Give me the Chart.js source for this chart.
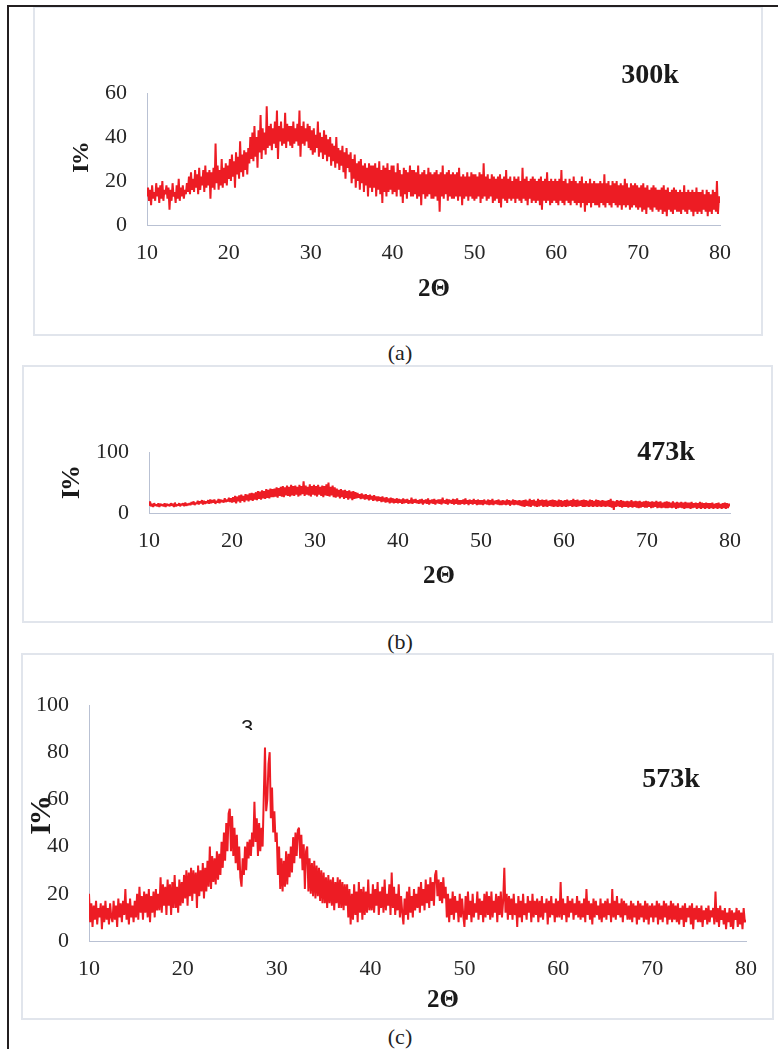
<!DOCTYPE html>
<html><head><meta charset="utf-8">
<script src="https://cdn.jsdelivr.net/npm/chart.js@4.4.0/dist/chart.umd.min.js"></script>
<style>
html,body{margin:0;padding:0;background:#fff;}
body{width:778px;height:1049px;position:relative;overflow:hidden;font-family:"Liberation Serif",serif;}
.frameTop{position:absolute;left:7px;top:5px;width:771px;height:2px;background:#231f20;}
.frameLeft{position:absolute;left:7px;top:5px;width:2px;height:1044px;background:#231f20;}
.box{position:absolute;border:2px solid #e1e5ec;box-sizing:border-box;}
.cap{position:absolute;font-size:22px;color:#222;transform:translate(-50%,-50%);line-height:1;}
canvas{position:absolute;left:0;}
</style></head>
<body>
<div class="box" style="left:33px;top:6px;width:730px;height:330px;"></div>
<div class="box" style="left:22px;top:365px;width:751px;height:258px;"></div>
<div class="box" style="left:21px;top:653px;width:753px;height:367px;"></div>
<div class="frameTop"></div><div class="frameLeft"></div>
<div class="cap" style="left:400px;top:353px;">(a)</div>
<div class="cap" style="left:400px;top:642px;">(b)</div>
<div class="cap" style="left:400px;top:1037px;">(c)</div>
<canvas id="ca" width="778" height="340" style="top:0px"></canvas>
<canvas id="cb" width="778" height="270" style="top:360px"></canvas>
<canvas id="cc" width="778" height="375" style="top:650px"></canvas>
<script>
// ---- data: intensity read every 0.125 deg of 2-theta, from 10 to 80 ----
const xStart = 10, xEnd = 80;
const xTicks = [10, 20, 30, 40, 50, 60, 70, 80];
const yTicksA = [0, 20, 40, 60];
const yTicksB = [0, 100];
const yTicksC = [0, 20, 40, 60, 80, 100];

// 300k (one row = 2.5 deg)
const seriesA_300k = [
13,17,11,16,9,18,12,15,11,19,13,17,10,18,12,20,11,16,14,18,
12,17,7,16,11,19,13,15,10,18,12,21,11,17,13,18,12,16,14,19,
15,22,14,24,16,21,15,25,17,23,14,26,16,22,18,25,15,27,17,24,
18,25,12,24,17,26,16,37,19,27,16,25,18,30,17,26,19,28,18,27,
21,30,20,32,22,29,17,33,23,31,21,38,24,32,22,34,25,33,23,35,
28,40,30,42,29,45,31,40,26,43,33,50,30,44,34,42,32,54,35,45,
36,46,34,44,37,47,35,52,30,45,38,47,36,44,37,51,35,46,38,45,
36,45,35,47,37,44,38,46,36,52,31,45,37,47,36,44,38,46,35,45,
34,43,32,44,33,41,35,47,31,42,33,40,30,43,32,41,29,39,31,40,
27,37,29,36,26,40,28,35,25,34,27,36,24,33,21,35,26,32,24,33,
19,30,21,32,17,28,20,29,16,30,19,27,15,28,18,26,13,28,17,27,
15,27,17,28,13,26,16,29,14,25,10,27,15,26,13,28,15,25,16,27,
14,27,15,24,13,28,16,25,13,23,10,26,14,25,12,24,15,27,13,25,
13,25,14,24,12,27,13,23,9,24,14,25,12,23,13,26,14,24,12,23,
12,24,13,25,11,23,6,24,13,27,12,23,14,24,11,25,13,23,12,24,
12,23,13,24,11,26,13,22,9,23,12,22,13,24,11,22,13,24,12,23,
11,23,12,22,13,24,10,23,12,28,13,22,11,23,12,21,13,23,10,22,
11,21,12,22,10,23,8,21,12,22,11,25,10,21,12,22,11,20,12,22,
10,21,12,22,11,20,10,26,12,21,11,22,9,20,12,21,10,22,11,21,
10,20,11,21,9,22,7,20,11,21,10,24,11,20,9,21,10,20,11,21,
10,20,9,21,11,25,10,20,9,21,11,19,10,21,9,20,11,22,10,20,
9,19,10,20,8,22,10,19,6,20,9,19,10,21,8,19,10,20,9,19,
9,19,8,20,10,19,9,23,8,19,10,20,9,18,8,20,10,19,9,20,
8,18,9,19,7,18,9,21,8,19,9,17,7,19,8,18,9,19,8,18,
7,17,8,18,6,19,7,17,5,18,8,16,7,17,6,18,8,17,7,16,
6,16,7,17,5,18,6,16,4,17,7,15,6,16,5,17,7,16,6,15,
6,16,5,15,7,18,6,15,5,16,7,15,6,16,4,15,6,17,5,15,
6,15,5,16,7,14,6,16,4,15,6,14,5,16,7,15,6,20,5,13,
10];

// 473k
const seriesB_473k = [
12,19,11,15,10,16,12,14,11,16,10,15,12,14,11,16,10,15,12,14,
11,16,12,15,10,17,11,14,12,16,11,15,13,16,11,17,12,15,13,16,
13,18,14,19,13,17,15,20,14,19,16,21,14,20,15,19,16,21,15,22,
16,21,17,22,15,20,17,23,16,22,18,21,17,24,18,22,19,25,18,24,
17,26,18,28,16,27,19,29,17,30,20,28,18,31,21,30,19,32,21,33,
20,32,22,34,21,36,23,35,22,37,24,36,23,39,25,38,24,40,26,39,
26,40,27,42,25,41,28,43,27,44,26,42,29,45,28,43,27,46,29,44,
28,45,30,43,27,46,29,44,31,52,28,45,30,43,29,47,27,44,30,46,
29,44,27,46,30,43,28,45,26,44,29,47,28,50,27,43,29,45,26,42,
25,40,27,38,24,39,26,37,23,38,25,36,22,37,24,35,21,36,23,34,
24,33,25,31,23,32,24,30,22,31,23,29,21,30,22,28,20,29,21,27,
19,27,20,26,18,27,19,25,17,26,18,24,16,25,17,24,16,23,17,24,
16,23,17,22,15,24,16,22,17,23,15,21,16,25,15,22,17,23,16,21,
15,22,16,23,14,21,16,22,15,24,14,21,16,22,15,23,14,21,16,22,
15,22,14,25,16,21,15,23,14,22,16,21,15,23,14,22,15,24,14,21,
14,21,15,22,14,24,15,21,13,22,15,21,14,23,15,21,13,22,14,21,
14,21,13,22,15,20,14,22,13,21,14,23,13,20,15,21,14,22,13,20,
13,21,14,20,13,22,14,21,12,20,14,22,13,21,14,20,13,21,12,20,
11,21,10,22,12,20,11,23,10,21,12,22,11,20,10,23,11,21,12,22,
10,21,11,22,10,20,12,21,11,22,10,21,11,20,10,22,11,21,10,20,
11,21,10,22,11,20,12,21,10,23,11,21,10,22,11,20,12,21,10,22,
10,21,11,20,10,22,11,21,10,20,11,22,10,21,11,20,10,21,11,20,
10,20,11,21,10,23,9,20,5,19,10,21,11,20,10,21,9,20,10,19,
10,20,9,19,10,21,9,19,10,20,9,19,8,20,9,18,10,19,9,20,
9,19,10,18,8,19,9,18,10,20,8,18,9,19,8,17,9,18,8,19,
8,18,9,17,8,19,9,17,7,18,8,17,9,18,8,17,7,18,8,17,
8,17,7,18,8,16,9,17,7,16,8,18,7,17,8,16,7,17,8,16,
7,16,8,17,7,15,8,16,7,17,8,15,7,16,8,17,7,16,8,15,
11];

// 573k
const seriesC_573k = [
20,8,16,6,15,9,17,7,14,10,16,5,15,8,17,9,14,7,16,10,
8,17,9,15,6,18,10,16,8,17,11,22,9,16,7,18,10,15,8,17,
10,20,9,23,12,19,9,21,12,20,10,22,8,19,12,21,10,22,13,20,
13,27,12,24,15,23,11,26,15,24,11,25,14,28,14,23,12,26,15,25,
16,28,18,30,15,29,19,31,17,30,20,29,14,32,19,30,21,33,18,31,
21,34,23,40,22,36,25,35,24,38,26,37,28,42,31,46,34,50,38,54,
56,38,53,36,48,33,45,30,40,27,23,35,28,40,30,42,35,43,36,46,
40,59,42,52,36,50,38,48,40,62,82,55,60,75,80,52,65,46,55,42,
46,28,40,22,35,21,34,23,38,24,37,27,40,29,44,33,46,36,47,48,
35,45,30,41,22,38,40,21,35,20,33,19,34,18,32,19,31,17,30,16,
29,16,27,14,28,16,26,15,27,13,25,16,27,14,26,14,25,13,24,15,
24,10,22,7,20,9,24,11,21,8,25,12,22,9,23,11,21,12,26,13,
20,13,24,12,22,15,25,11,21,14,23,12,26,13,20,15,24,11,29,14,
23,11,20,13,24,10,19,12,7,18,11,21,9,23,12,19,10,22,13,20,
14,23,12,25,15,22,13,26,16,24,14,27,17,25,15,28,30,19,26,17,
25,16,27,18,23,10,20,8,18,11,21,9,19,12,17,8,20,10,18,11,
6,19,9,21,11,17,8,20,10,16,12,21,9,18,11,17,8,20,10,21,
11,19,9,21,10,17,12,20,8,19,11,21,10,17,31,12,20,9,19,11,
18,9,20,11,16,6,19,10,17,8,20,11,16,9,19,12,17,8,20,10,
17,11,18,8,17,10,19,9,16,12,18,7,17,10,19,11,16,8,18,10,
17,10,25,9,18,11,16,8,19,10,17,12,18,9,16,11,19,10,17,9,
16,10,18,8,22,11,17,9,16,7,18,10,17,11,15,9,18,8,16,10,
17,9,18,11,16,8,22,10,17,9,19,11,16,10,18,8,17,11,16,9,
15,9,17,8,16,10,15,7,17,9,16,10,15,8,17,9,16,7,15,10,
16,8,15,10,17,7,16,9,15,8,17,10,16,7,15,9,17,8,16,9,
15,8,16,7,14,9,15,6,16,8,14,10,15,7,16,5,14,9,15,8,
14,8,15,6,13,9,14,7,15,8,13,10,14,7,21,8,14,6,15,9,
13,7,14,5,12,8,14,6,13,5,12,9,14,6,13,7,12,5,14,8,
9];

// ---- styling ----
const RED = '#ED1C24';
const AXIS = '#b9c1d3';
const TICKFONT = {family: '"Liberation Serif", "Times New Roman", serif', size: 22};
const TICKCOLOR = '#262626';
const SERIF = '"Liberation Serif", "Times New Roman", serif';

function toPoints(ys) {
  const n = ys.length;
  return ys.map((y, i) => ({x: xStart + i * (xEnd - xStart) / (n - 1), y: y}));
}

function textPlugin(items) {
  return {
    id: 'texts',
    afterDraw(chart) {
      const ctx = chart.ctx;
      items.forEach(t => {
        ctx.save();
        ctx.font = t.font;
        ctx.fillStyle = t.color || '#1a1a1a';
        ctx.textAlign = 'center';
        ctx.textBaseline = t.baseline || 'middle';
        if (t.spacing) ctx.letterSpacing = t.spacing;
        ctx.translate(t.x, t.y);
        if (t.rot) ctx.rotate(t.rot);
        if (t.clipBelow != null) {
          ctx.beginPath();
          ctx.rect(-60, -80, 120, 80 + t.clipBelow);
          ctx.clip();
        }
        ctx.fillText(t.text, 0, 0);
        ctx.restore();
      });
    }
  };
}

function makeChart(id, ys, yMin, yMax, yTicks, area, H, items) {
  const W = 778, padL = 20, xAxisH = 60;
  return new Chart(document.getElementById(id), {
    type: 'line',
    data: {datasets: [{
      data: toPoints(ys), borderColor: RED, borderWidth: 2, pointRadius: 0,
      tension: 0, fill: false, borderJoinStyle: 'bevel'
    }]},
    options: {
      responsive: false, animation: false,
      layout: {padding: {left: padL, right: W - area.right, top: area.top, bottom: H - area.bottom - xAxisH}},
      plugins: {legend: {display: false}, tooltip: {enabled: false}},
      scales: {
        x: {
          type: 'linear', min: 10, max: 80,
          grid: {display: false, drawTicks: false},
          border: {display: true, color: AXIS, width: 1},
          ticks: {font: TICKFONT, color: TICKCOLOR, padding: 15, autoSkip: false, maxRotation: 0},
          afterBuildTicks: s => { s.ticks = xTicks.map(v => ({value: v})); },
          afterFit: s => { s.height = xAxisH; }
        },
        y: {
          type: 'linear', min: yMin, max: yMax,
          grid: {display: false, drawTicks: false},
          border: {display: true, color: AXIS, width: 1},
          ticks: {font: TICKFONT, color: TICKCOLOR, padding: 20, autoSkip: false},
          afterBuildTicks: s => { s.ticks = yTicks.map(v => ({value: v})); },
          afterFit: s => { s.width = area.left - padL; }
        }
      }
    },
    plugins: [textPlugin(items)]
  });
}

makeChart('ca', seriesA_300k, 0, 60, yTicksA, {left: 147, right: 720, top: 93, bottom: 225}, 340, [
  {text: '300k', x: 650, y: 76, font: 'bold 28px ' + SERIF},
  {text: '2\u0398', x: 434, y: 290, font: 'bold 25px ' + SERIF},
  {text: 'I%', x: 82, y: 158, font: 'bold 24px ' + SERIF, rot: -Math.PI / 2, spacing: '-2px'}
]);

makeChart('cb', seriesB_473k, 0, 100, yTicksB, {left: 149, right: 730, top: 92, bottom: 153}, 270, [
  {text: '473k', x: 666, y: 93, font: 'bold 28px ' + SERIF},
  {text: '2\u0398', x: 439, y: 217, font: 'bold 25px ' + SERIF},
  {text: 'I%', x: 72, y: 123, font: 'bold 26px ' + SERIF, rot: -Math.PI / 2, spacing: '-2px'}
]);

makeChart('cc', seriesC_573k, 0, 100, yTicksC, {left: 89, right: 746, top: 55, bottom: 291}, 375, [
  {text: '573k', x: 671, y: 130, font: 'bold 28px ' + SERIF},
  {text: '2\u0398', x: 443, y: 351, font: 'bold 25px ' + SERIF},
  {text: 'I%', x: 42, y: 166, font: 'bold 30px ' + SERIF, rot: -Math.PI / 2, spacing: '-2px'},
  {text: '3', x: 247, y: 85, font: '22px "Liberation Sans", Arial, sans-serif', baseline: 'alphabetic', clipBelow: -5}
]);
</script>
</body></html>
